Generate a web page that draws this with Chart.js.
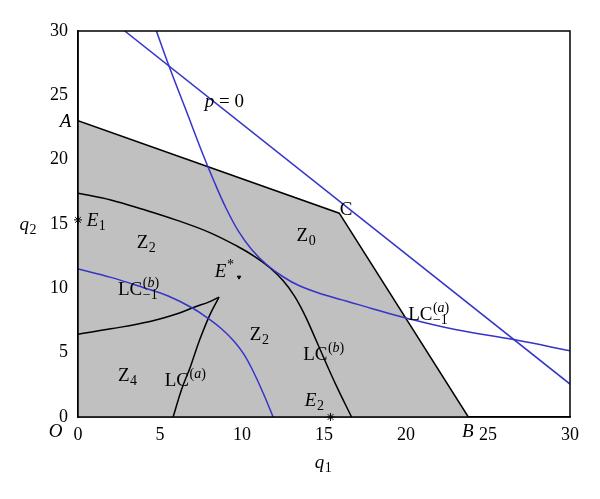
<!DOCTYPE html>
<html><head><meta charset="utf-8">
<script src="https://cdn.jsdelivr.net/npm/chart.js@4/dist/chart.umd.min.js"></script>
<style>html,body{margin:0;padding:0;background:#fff}#wrap{width:600px;height:499px}</style>
</head><body><div id="wrap"><canvas id="c" width="600" height="499"></canvas></div>
<script>
// ---- data (q1, q2) ----
const axisMin = 0, axisMax = 30, tickStep = 5;

// boundary of the shaded region A - C - B
const regionQ1 = [0, 15.93, 23.8];
const regionQ2 = [23.03, 15.84, 0];

// straight line p = 0
const pZeroQ1 = [2.85, 30];
const pZeroQ2 = [30, 2.56];

// LC_{-1}^{(a)} (blue)
const lcm1aQ1 = [4.78, 5.6, 6.6, 7.53, 8.3, 9.0, 9.8, 10.6, 11.5, 12.5, 13.5, 15.0, 16.4, 18.0, 20.04, 23.0, 26.64, 30];
const lcm1aQ2 = [30, 27.1, 23.8, 20.7, 18.3, 16.3, 14.4, 13.0, 11.85, 10.9, 10.2, 9.5, 9.0, 8.4, 7.68, 6.8, 6.0, 5.15];

// LC_{-1}^{(b)} (blue)
const lcm1bQ1 = [0, 2, 4, 5.5, 7.0, 8.0, 8.8, 9.5, 10.1, 10.7, 11.29, 11.9];
const lcm1bQ2 = [11.5, 10.85, 10.05, 9.4, 8.45, 7.6, 6.8, 5.9, 4.9, 3.5, 1.86, 0];

// LC^{(b)} (black)
const lcbQ1 = [0, 2, 4, 6, 8, 9.74, 10.8, 11.7, 12.5, 13.2, 13.8, 14.3, 14.95, 15.77, 16.68];
const lcbQ2 = [17.4, 16.87, 16.12, 15.3, 14.35, 13.25, 12.45, 11.6, 10.6, 9.4, 8.0, 6.6, 4.7, 2.38, 0];

// LC^{(a)} (black), two branches meeting at a cusp
const lcaUpperQ1 = [0, 2, 4.39, 6, 7.12, 8.0, 8.6];
const lcaUpperQ2 = [6.44, 6.85, 7.42, 8.0, 8.55, 8.95, 9.32];
const lcaLowerQ1 = [5.8, 6.31, 6.86, 7.42, 8.04, 8.6];
const lcaLowerQ2 = [0, 2.12, 3.93, 6.0, 7.94, 9.32];

// equilibria
const starQ1 = [0, 15.4];      // E1, E2
const starQ2 = [15.32, 0];
const eStarQ1 = [9.82];
const eStarQ2 = [10.87];

// text labels (left, baseline) in data coordinates
const labels = [
  {q1: 7.73, q2: 24.1, base: [{t: 'p', it: 1}, {t: ' = 0'}]},
  {q1: -1.12, q2: 22.55, base: [{t: 'A', it: 1}]},
  {q1: 15.96, q2: 15.7, base: [{t: 'C'}]},
  {q1: 23.41, q2: -1.53, base: [{t: 'B', it: 1}]},
  {q1: -1.79, q2: -1.53, base: [{t: 'O', it: 1}]},
  {q1: 0.53, q2: 14.85, base: [{t: 'E', it: 1}], sub: [{t: '1'}]},
  {q1: 3.58, q2: 13.15, base: [{t: 'Z'}], sub: [{t: '2'}]},
  {q1: 13.33, q2: 13.71, base: [{t: 'Z'}], sub: [{t: '0'}]},
  {q1: 8.34, q2: 10.87, base: [{t: 'E', it: 1}], sup: [{t: '*'}]},
  {q1: 2.44, q2: 9.5, base: [{t: 'LC'}], sup: [{t: '('}, {t: 'b', it: 1}, {t: ')'}], sub: [{t: '\u22121'}]},
  {q1: 10.48, q2: 5.95, base: [{t: 'Z'}], sub: [{t: '2'}]},
  {q1: 13.73, q2: 4.45, base: [{t: 'LC'}], sup: [{t: '('}, {t: 'b', it: 1}, {t: ')'}]},
  {q1: 2.44, q2: 2.76, base: [{t: 'Z'}], sub: [{t: '4'}]},
  {q1: 5.29, q2: 2.43, base: [{t: 'LC'}], sup: [{t: '('}, {t: 'a', it: 1}, {t: ')'}]},
  {q1: 13.83, q2: 0.82, base: [{t: 'E', it: 1}], sub: [{t: '2'}]},
  {q1: 20.13, q2: 7.55, base: [{t: 'LC'}], sup: [{t: '('}, {t: 'a', it: 1}, {t: ')'}], sub: [{t: '\u22121'}]},
  {q1: -3.56, q2: 14.54, base: [{t: 'q', it: 1}], sub: [{t: '2'}]},
  {q1: 14.44, q2: -3.96, base: [{t: 'q', it: 1}], sub: [{t: '1'}]}
];

const pts = (xs, ys) => xs.map((x, i) => ({x: x, y: ys[i]}));
const BLUE = '#3434c8';
const FONT = '"Liberation Serif", "Times New Roman", serif';

function lineDs(xs, ys, color, order) {
  return {data: pts(xs, ys), showLine: true, borderColor: color, borderWidth: 1.5,
    pointRadius: 0, fill: false, tension: 0.4, order: order};
}

const datasets = [
  {data: pts(regionQ1, regionQ2), showLine: true, borderColor: '#000', borderWidth: 1.5,
   backgroundColor: '#c0c0c0', fill: 'origin', pointRadius: 0, tension: 0, order: 10},
  lineDs(lcbQ1, lcbQ2, '#000', 5),
  lineDs(lcaUpperQ1, lcaUpperQ2, '#000', 5),
  lineDs(lcaLowerQ1, lcaLowerQ2, '#000', 5),
  lineDs(lcm1bQ1, lcm1bQ2, BLUE, 3),
  lineDs(lcm1aQ1, lcm1aQ2, BLUE, 3),
  Object.assign(lineDs(pZeroQ1, pZeroQ2, BLUE, 3), {tension: 0}),
  {data: pts(starQ1, starQ2), showLine: false, pointStyle: 'star', pointRadius: 4,
   borderColor: '#000', borderWidth: 1, backgroundColor: '#000', clip: false, order: 1},
  {data: pts(eStarQ1, eStarQ2), showLine: false, pointStyle: 'triangle', rotation: 180, pointRadius: 2,
   borderColor: '#000', borderWidth: 1, backgroundColor: '#000', order: 1}
];

function drawParts(ctx, x, y, parts, size) {
  let cx = x;
  parts.forEach(p => {
    ctx.font = (p.it ? 'italic ' : '') + size + 'px ' + FONT;
    ctx.fillText(p.t, cx, y);
    cx += ctx.measureText(p.t).width;
  });
  return cx;
}

const textPlugin = {
  id: 'texts',
  afterDraw(chart) {
    const ctx = chart.ctx, xs = chart.scales.x, ys = chart.scales.y, ca = chart.chartArea;
    ctx.save();
    ctx.strokeStyle = '#000';
    ctx.lineWidth = 1.5;
    ctx.strokeRect(ca.left, ca.top, ca.right - ca.left, ca.bottom - ca.top);
    ctx.fillStyle = '#000';
    ctx.textBaseline = 'alphabetic';
    ctx.textAlign = 'left';
    labels.forEach(l => {
      const px = xs.getPixelForValue(l.q1), py = ys.getPixelForValue(l.q2);
      const end = drawParts(ctx, px, py, l.base, 19);
      if (l.sup) drawParts(ctx, end + 0.5, py - 8, l.sup, 14);
      if (l.sub) drawParts(ctx, end + 0.5, py + 4, l.sub, 14);
    });
    ctx.restore();
  }
};

new Chart(document.getElementById('c'), {
  type: 'scatter',
  data: {datasets: datasets},
  options: {
    responsive: false,
    animation: false,
    devicePixelRatio: 1,
    layout: {padding: {left: 0, top: 31, right: 30, bottom: 0}},
    plugins: {legend: {display: false}, tooltip: {enabled: false}},
    scales: {
      x: {
        type: 'linear', min: axisMin, max: axisMax,
        grid: {display: false, drawTicks: false},
        border: {display: true, color: '#000', width: 1.5},
        ticks: {stepSize: tickStep, color: '#000', padding: 7, font: {family: FONT, size: 18}},
        afterFit(s) { s.height = 82; }
      },
      y: {
        type: 'linear', min: axisMin, max: axisMax,
        grid: {display: false, drawTicks: false},
        border: {display: true, color: '#000', width: 1.5},
        ticks: {stepSize: tickStep, color: '#000', padding: 10, font: {family: FONT, size: 18}},
        afterFit(s) { s.width = 78; }
      }
    }
  },
  plugins: [textPlugin]
});
</script>
</body></html>
